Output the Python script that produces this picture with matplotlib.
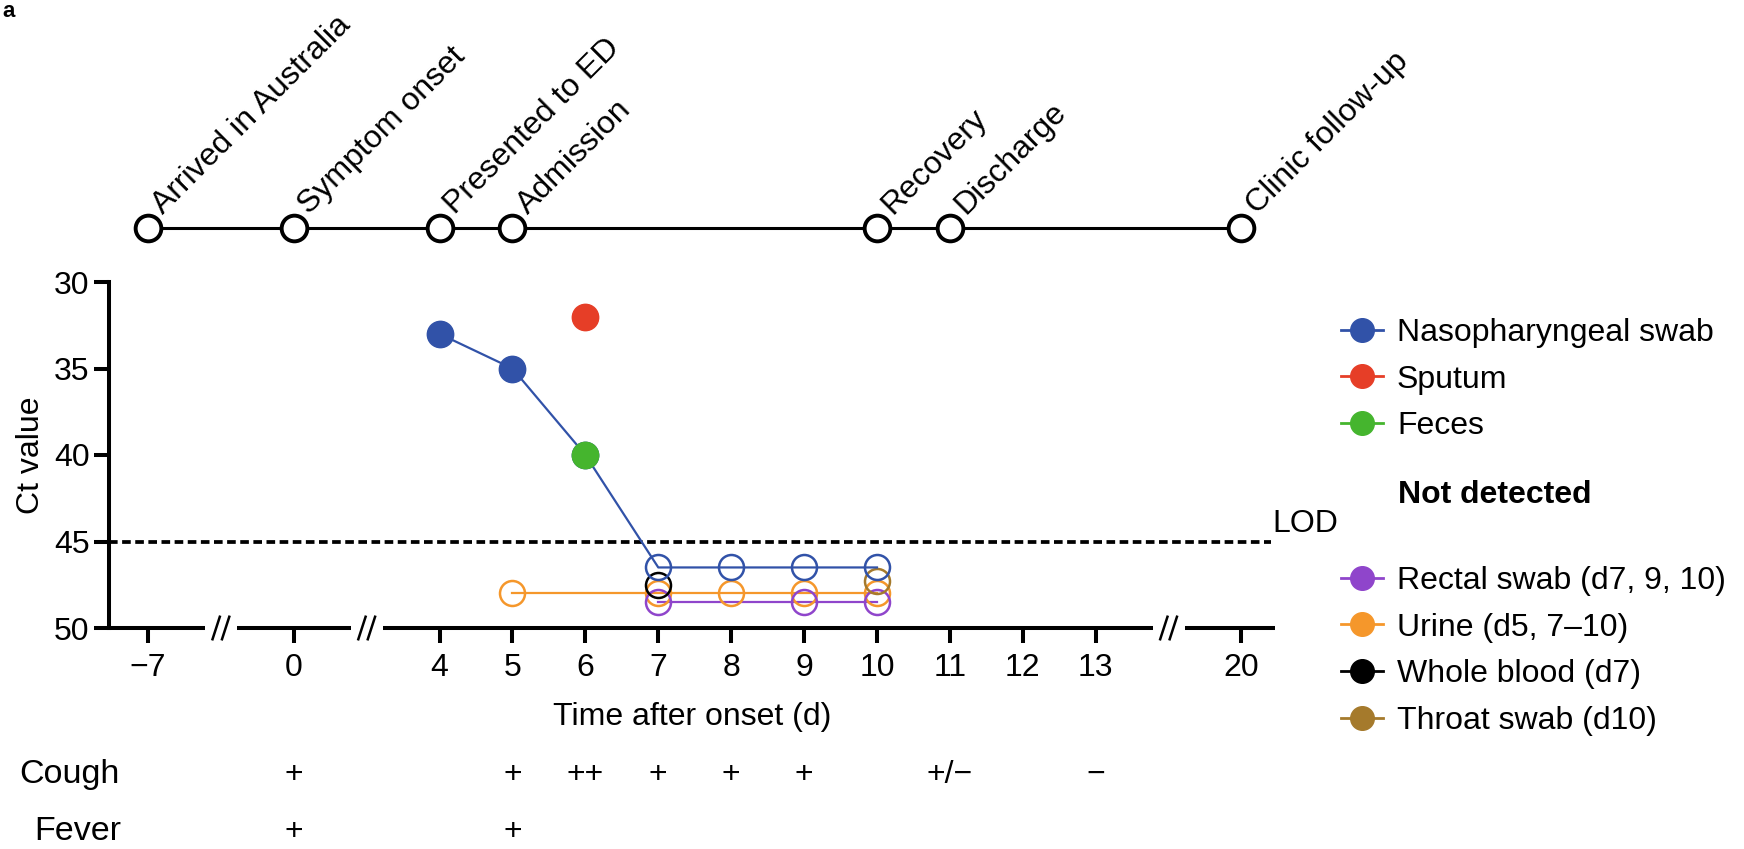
import numpy as np
import matplotlib
matplotlib.use('Agg')
import matplotlib.pyplot as plt
from matplotlib.lines import Line2D
import matplotlib.transforms as mtransforms

plt.rcParams['font.family'] = ['Liberation Sans', 'DejaVu Sans']
FS = 23

# ---------------- data ----------------
event_days = [-7, 0, 4, 5, 10, 11, 20]
event_labels = ['Arrived in Australia', 'Symptom onset', 'Presented to ED',
                'Admission', 'Recovery', 'Discharge', 'Clinic follow-up']

tick_days = [-7, 0, 4, 5, 6, 7, 8, 9, 10, 11, 12, 13, 20]
tick_labels = ['\u22127', '0', '4', '5', '6', '7', '8', '9', '10', '11', '12', '13', '20']
y_ticks = [30, 35, 40, 45, 50]

np_days = [4, 5, 6, 7, 8, 9, 10]
np_ct = [33, 35, 40, 46.5, 46.5, 46.5, 46.5]
np_detected = [True, True, True, False, False, False, False]
sputum_days = [6]
sputum_ct = [32]
feces_days = [6]
feces_ct = [40]
rectal_days = [7, 9, 10]
rectal_ct = [48.5, 48.5, 48.5]
urine_days = [5, 7, 8, 9, 10]
urine_ct = [48, 48, 48, 48, 48]
blood_days = [7]
blood_ct = [47.5]
throat_days = [10]
throat_ct = [47.3]
lod_ct = 45

cough_days = [0, 5, 6, 7, 8, 9, 11, 13]
cough_marks = ['+', '+', '++', '+', '+', '+', '+/\u2212', '\u2212']
fever_days = [0, 5]
fever_marks = ['+', '+']

# broken time axis (piecewise linear scale)
knot_days = [-1000, -7, 0, 4, 13, 20, 1000]
knot_pos = [-993, 0, 2, 4, 13, 15, 995]


def fwd(d):
    return np.interp(np.asarray(d, float), knot_days, knot_pos)


def inv(p):
    return np.interp(np.asarray(p, float), knot_pos, knot_days)


C_NP = '#3152A8'
C_SP = '#E63E27'
C_FE = '#45B52E'
C_RE = '#8F45CB'
C_UR = '#F5972B'
C_BL = '#000000'
C_TH = '#A57A2C'

W, H = 1744, 849
fig = plt.figure(figsize=(W / 100, H / 100), dpi=100)


def rect(x0, y0, x1, y1):
    return [x0 / W, 1 - y1 / H, (x1 - x0) / W, (y1 - y0) / H]


ax = fig.add_axes(rect(109, 282, 1275, 628))
ax.set_xscale('function', functions=(fwd, inv))
p_left, p_right = -0.535, 15.46
ax.set_xlim(float(inv(p_left)), float(inv(p_right)))
ax.set_ylim(50, 30)

for s in ['top', 'right', 'bottom']:
    ax.spines[s].set_visible(False)
ax.spines['left'].set_linewidth(2.9)
ax.set_yticks(y_ticks)
ax.set_xticks(tick_days)
ax.set_xticklabels(tick_labels)
ax.xaxis.set_minor_locator(matplotlib.ticker.NullLocator())
ax.tick_params(axis='both', direction='out', length=11, width=2.9, labelsize=FS)
ax.tick_params(axis='x', pad=7)
ax.tick_params(axis='y', pad=3)

# bottom axis line with breaks
breaks_p = [1, 3, 14]
half_gap = 0.22
seg_edges = [p_left]
for b in breaks_p:
    seg_edges += [b - half_gap, b + half_gap]
seg_edges.append(p_right)
for a0, a1 in zip(seg_edges[0::2], seg_edges[1::2]):
    ax.plot(inv([a0, a1]), [50, 50], color='black', lw=2.9, clip_on=False,
            solid_capstyle='butt', zorder=5)
for b in breaks_p:
    for off in (-0.065, 0.065):
        ax.plot(inv([b + off - 0.05, b + off + 0.05]), [50.65, 49.35],
                color='black', lw=1.8, clip_on=False, zorder=5)

# LOD
ax.plot([ax.get_xlim()[0], float(inv(15.4))], [lod_ct, lod_ct], color='black',
        lw=2.7, dashes=(2.3, 1.2), zorder=1)
ax.annotate('LOD', xy=(float(inv(15.4)), lod_ct), xytext=(1, 7),
            textcoords='offset points', ha='left', va='baseline', fontsize=FS,
            annotation_clip=False)

MS = 18
# not-detected series
ax.plot(urine_days, urine_ct, '-', color=C_UR, lw=1.6, zorder=2)
ax.plot(urine_days, urine_ct, 'o', mfc='none', mec=C_UR, mew=1.8, ms=MS, zorder=3)
ax.plot(rectal_days, rectal_ct, '-', color=C_RE, lw=1.6, zorder=2)
ax.plot(rectal_days, rectal_ct, 'o', mfc='none', mec=C_RE, mew=1.8, ms=MS, zorder=3)
ax.plot(blood_days, blood_ct, 'o', mfc='none', mec=C_BL, mew=1.8, ms=MS, zorder=3)
ax.plot(throat_days, throat_ct, 'o', mfc='none', mec=C_TH, mew=1.8, ms=MS, zorder=3)

# nasopharyngeal swab
ax.plot(np_days, np_ct, '-', color=C_NP, lw=1.6, zorder=3)
det_d = [d for d, f in zip(np_days, np_detected) if f]
det_c = [c for c, f in zip(np_ct, np_detected) if f]
nd_d = [d for d, f in zip(np_days, np_detected) if not f]
nd_c = [c for c, f in zip(np_ct, np_detected) if not f]
ax.plot(nd_d, nd_c, 'o', mfc='none', mec=C_NP, mew=1.8, ms=MS, zorder=4)
ax.plot(det_d, det_c, 'o', color=C_NP, ms=MS + 1, zorder=4)
ax.plot(sputum_days, sputum_ct, 'o', color=C_SP, ms=MS + 1, zorder=5)
ax.plot(feces_days, feces_ct, 'o', color=C_FE, ms=MS + 1, zorder=5)

ax.set_ylabel('Ct value', fontsize=FS)
ax.yaxis.label.set_va('center')
ax.yaxis.set_label_coords((31 - 109) / 1166, 0.5)
ax.set_xlabel('Time after onset (d)', fontsize=FS)
ax.xaxis.label.set_va('center')
ax.xaxis.set_label_coords(0.5, (628 - 717) / 346)

# timeline
ax_t = fig.add_axes(rect(109, 200, 1275, 255), sharex=ax)
ax_t.set_ylim(-1, 1)
ax_t.axis('off')
zeros = [0] * len(event_days)
ax_t.plot(event_days, zeros, '-', color='black', lw=2.2, zorder=1, clip_on=False)
ax_t.plot(event_days, zeros, 'o', mfc='white', mec='black', mew=2.8, ms=18.5,
          zorder=2, clip_on=False)
for d, lab in zip(event_days, event_labels):
    ax_t.annotate(lab, (d, 0), xytext=(11, 9), textcoords='offset points',
                  rotation=45, rotation_mode='anchor', ha='left', va='baseline',
                  fontsize=FS, annotation_clip=False)

# symptom rows
trans = mtransforms.blended_transform_factory(ax.transData, fig.transFigure)
y_cough = 1 - 775 / H
y_fever = 1 - 832 / H
for d, m in zip(cough_days, cough_marks):
    fig.text(d, y_cough, m, transform=trans, ha='center', va='center', fontsize=FS)
for d, m in zip(fever_days, fever_marks):
    fig.text(d, y_fever, m, transform=trans, ha='center', va='center', fontsize=FS)
fig.text(19 / W, y_cough, 'Cough', ha='left', va='center', fontsize=FS + 1.5)
fig.text(34 / W, y_fever, 'Fever', ha='left', va='center', fontsize=FS + 1.5)

# panel label in the top-left corner
fig.text(2 / W, 1 - 1 / H, 'a', fontweight='bold', ha='left', va='top',
         fontsize=16)

# legends


def h(c):
    return Line2D([], [], color=c, marker='o', ms=17, lw=2, mec=c, mfc=c)


leg_kw = dict(loc='upper left', bbox_transform=fig.transFigure, frameon=False,
              borderpad=0, borderaxespad=0, handlelength=1.3, handletextpad=0.45,
              labelspacing=0.52, fontsize=FS)
leg1 = fig.legend([h(C_NP), h(C_SP), h(C_FE)],
                  ['Nasopharyngeal swab', 'Sputum', 'Feces'],
                  bbox_to_anchor=(1341 / W, 1 - 318 / H), **leg_kw)
fig.text(1398 / W, 1 - 495 / H, 'Not detected', fontweight='bold', ha='left',
         va='center', fontsize=FS)
leg2 = fig.legend([h(C_RE), h(C_UR), h(C_BL), h(C_TH)],
                  ['Rectal swab (d7, 9, 10)', 'Urine (d5, 7\u201310)',
                   'Whole blood (d7)', 'Throat swab (d10)'],
                  bbox_to_anchor=(1341 / W, 1 - 566 / H), **leg_kw)

fig.savefig('out.png', dpi=100)
